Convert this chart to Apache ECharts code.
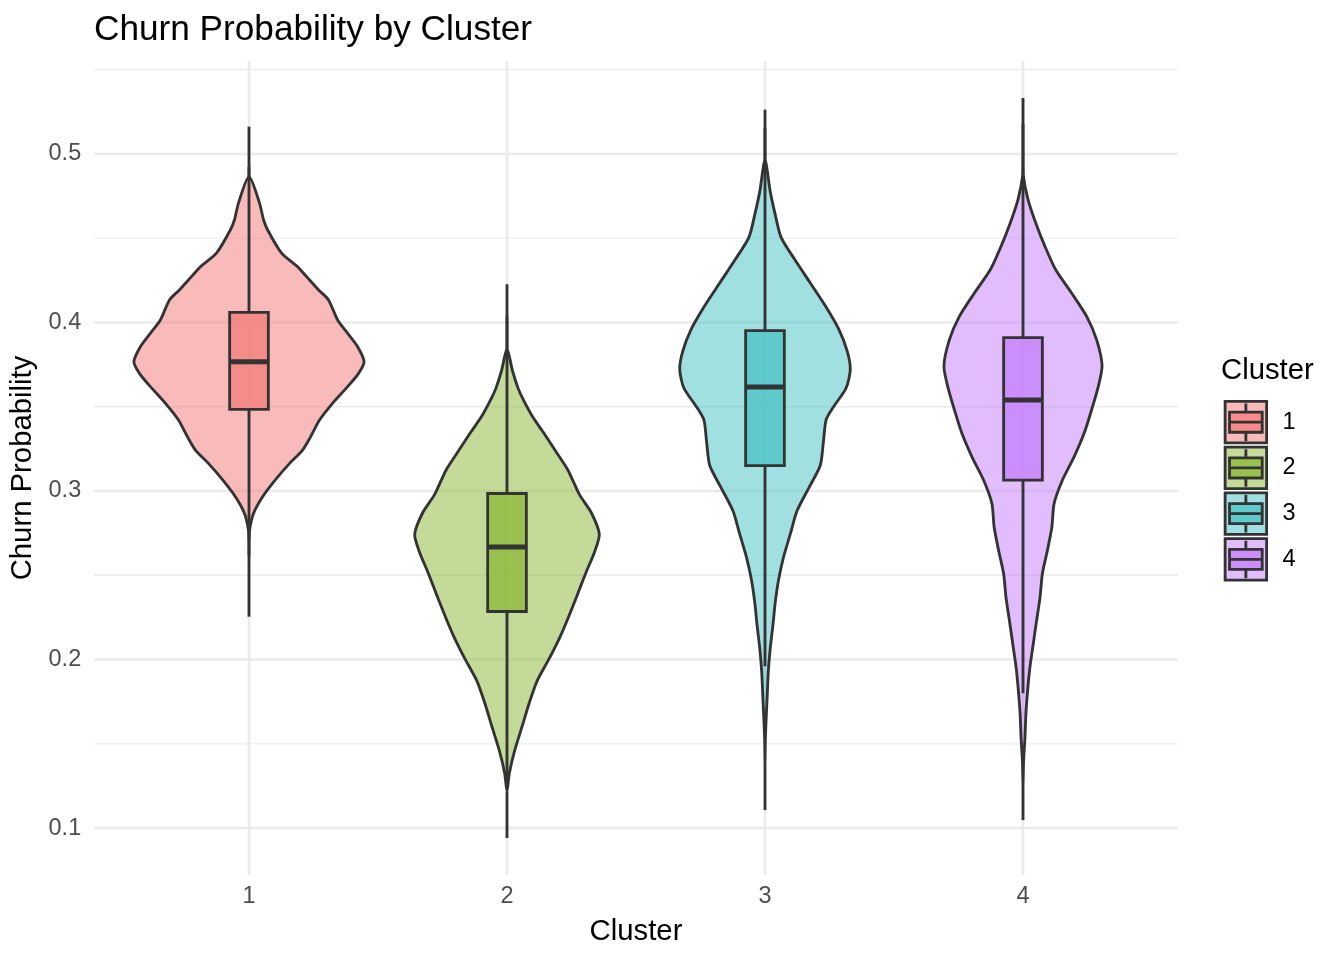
<!DOCTYPE html>
<html><head><meta charset="utf-8">
<script src="https://cdn.jsdelivr.net/npm/echarts@6/dist/echarts.min.js"></script>
<style>html,body{margin:0;padding:0;background:#fff}#chart{width:1344px;height:960px}</style>
</head><body><div id="chart"></div>
<script>
// ---------------- data ----------------
const categories = ['1', '2', '3', '4'];
const yMajorTicks = [0.1, 0.2, 0.3, 0.4, 0.5];
const yMinorTicks = [0.15, 0.25, 0.35, 0.45, 0.55];

// violin outlines: probability levels and relative density width (1 = widest)
const violinY1 = [0.5162,0.4865,0.4707,0.4608,0.4549,0.4411,0.4331,0.4272,0.4193,0.4134,0.4015,0.3936,0.3856,0.3767,0.3698,0.3619,0.3520,0.3421,0.3322,0.3243,0.3164,0.3065,0.2966,0.2868,0.2769,0.2690,0.2254];
const violinW1 = [0,0.001,0.092,0.127,0.162,0.283,0.422,0.500,0.605,0.691,0.770,0.857,0.944,1.000,0.952,0.857,0.726,0.613,0.535,0.466,0.353,0.227,0.118,0.040,0.005,0,0];

const violinY2 = [0.4227,0.3845,0.3718,0.3612,0.3549,0.3443,0.3337,0.3231,0.3125,0.3061,0.2977,0.2871,0.2744,0.2638,0.2511,0.2383,0.2235,0.2129,0.2002,0.1875,0.1748,0.1600,0.1451,0.1324,0.1218,0.1112,0.0941];
const violinW2 = [0,0,0.046,0.095,0.136,0.220,0.327,0.428,0.529,0.573,0.631,0.733,0.802,0.761,0.683,0.611,0.524,0.457,0.364,0.263,0.196,0.130,0.063,0.020,0,0,0];

const violinY3 = [0.5263,0.4965,0.4775,0.4640,0.4505,0.4369,0.4234,0.4099,0.3963,0.3828,0.3720,0.3611,0.3500,0.3422,0.3287,0.3151,0.3016,0.2880,0.2745,0.2610,0.2474,0.2339,0.2204,0.2069,0.1933,0.1798,0.1663,0.1527,0.1392,0.1107];
const violinW3 = [0,0,0.046,0.089,0.140,0.263,0.394,0.524,0.639,0.715,0.741,0.705,0.596,0.531,0.507,0.480,0.379,0.277,0.220,0.162,0.118,0.089,0.069,0.046,0.029,0.020,0.011,0.003,0,0];

const violinY4 = [0.5332,0.4950,0.4869,0.4731,0.4592,0.4453,0.4314,0.4175,0.4036,0.3897,0.3744,0.3619,0.3481,0.3342,0.3203,0.3064,0.2925,0.2786,0.2647,0.2508,0.2369,0.2231,0.2092,0.1953,0.1814,0.1675,0.1536,0.1397,0.1258,0.1047];
const violinW4 = [0,0,0.003,0.043,0.110,0.190,0.283,0.422,0.553,0.640,0.687,0.654,0.596,0.531,0.444,0.342,0.270,0.251,0.212,0.168,0.148,0.118,0.089,0.060,0.040,0.025,0.017,0.005,0,0];

// box plot statistics per cluster
const boxQ1 = [0.3484, 0.2285, 0.3151, 0.3065];
const boxMedian = [0.3767, 0.2667, 0.3617, 0.3540];
const boxQ3 = [0.4060, 0.2985, 0.3952, 0.3910];
const whiskerLow = [0.2620, 0.1235, 0.1960, 0.1800];
const whiskerHigh = [0.4924, 0.4035, 0.5154, 0.5178];

// ---------------- helpers ----------------
const violinYs = [violinY1, violinY2, violinY3, violinY4];
const violinWs = [violinW1, violinW2, violinW3, violinW4];
const hues = ['#F37875', '#89B632', '#42C1C3', '#C47BFC'];
const FONT = '"Liberation Sans", Arial, Helvetica, sans-serif';
const OUTLINE = '#333333';
const LW = 2.84;
const VIOLIN_ALPHA = 0.5, BOX_ALPHA = 0.7;

function rgba(hex, a) {
  const r = parseInt(hex.slice(1, 3), 16), g = parseInt(hex.slice(3, 5), 16), b = parseInt(hex.slice(5, 7), 16);
  return 'rgba(' + r + ',' + g + ',' + b + ',' + a + ')';
}

const allY = [].concat(...violinYs, whiskerLow, whiskerHigh);
const dMin = Math.min(...allY), dMax = Math.max(...allY);
const yMin = dMin - 0.05 * (dMax - dMin);
const yMax = dMax + 0.05 * (dMax - dMin);
const xMin = 1 - 0.6, xMax = categories.length + 0.6;

// grid line items: [orientation (0 horizontal, 1 vertical), value, major flag]
const gridData = []
  .concat(yMinorTicks.map(v => [0, v, 0]))
  .concat(yMajorTicks.map(v => [0, v, 1]))
  .concat(categories.map((c, i) => [1, i + 1, 1]));

function renderGrid(params, api) {
  const cs = params.coordSys;
  const orient = api.value(0), v = api.value(1), major = api.value(2);
  const style = { stroke: '#EBEBEB', lineWidth: major ? 2.6 : 1.3 };
  if (orient === 0) {
    const py = api.coord([xMin, v])[1];
    return { type: 'line', shape: { x1: cs.x, y1: py, x2: cs.x + cs.width, y2: py }, style: style };
  }
  const px = api.coord([v, yMin])[0];
  return { type: 'line', shape: { x1: px, y1: cs.y, x2: px, y2: cs.y + cs.height }, style: style };
}

const EPS = 0.0025;
function renderViolin(params, api) {
  const xPos = api.value(0);
  const k = api.value(1);
  const band = api.size([1, 0])[0];
  const cx = api.coord([xPos, yMin])[0];
  const ys = violinYs[k], ws = violinWs[k];
  let a = 0; while (a < ws.length && ws[a] <= EPS) a++;
  let b = ws.length - 1; while (b >= 0 && ws[b] <= EPS) b--;
  const s = Math.max(a - 1, 0), e = Math.min(b + 1, ws.length - 1);
  const right = [], left = [];
  for (let j = s; j <= e; j++) {
    const py = api.coord([xPos, ys[j]])[1];
    const hw = (j === s || j === e) ? 0 : ws[j] * 0.446 * band;
    right.push([cx + hw, py]);
    left.push([cx - hw, py]);
  }
  const pts = right.concat(left.slice(1, -1).reverse());
  const yTop = api.coord([xPos, ys[0]])[1], yTopTip = api.coord([xPos, ys[s]])[1];
  const yBot = api.coord([xPos, ys[ys.length - 1]])[1], yBotTip = api.coord([xPos, ys[e]])[1];
  const yq1 = api.coord([xPos, boxQ1[k]])[1];
  const yq3 = api.coord([xPos, boxQ3[k]])[1];
  const ymed = api.coord([xPos, boxMedian[k]])[1];
  const ylo = api.coord([xPos, whiskerLow[k]])[1];
  const yhi = api.coord([xPos, whiskerHigh[k]])[1];
  const bw = 0.075 * band;
  const lineStyle = { stroke: OUTLINE, lineWidth: LW, lineCap: 'butt' };
  return {
    type: 'group',
    children: [
      { type: 'polygon', shape: { points: pts, smooth: 0.25 },
        style: { fill: rgba(hues[k], VIOLIN_ALPHA), stroke: OUTLINE, lineWidth: LW, lineJoin: 'round' } },
      { type: 'line', shape: { x1: cx, y1: yTop, x2: cx, y2: yTopTip }, style: lineStyle },
      { type: 'line', shape: { x1: cx, y1: yBotTip, x2: cx, y2: yBot }, style: lineStyle },
      { type: 'line', shape: { x1: cx, y1: yq3, x2: cx, y2: yhi }, style: lineStyle },
      { type: 'line', shape: { x1: cx, y1: yq1, x2: cx, y2: ylo }, style: lineStyle },
      { type: 'rect', shape: { x: cx - bw, y: yq3, width: 2 * bw, height: yq1 - yq3 },
        style: { fill: rgba(hues[k], BOX_ALPHA), stroke: OUTLINE, lineWidth: LW } },
      { type: 'line', shape: { x1: cx - bw, y1: ymed, x2: cx + bw, y2: ymed },
        style: { stroke: OUTLINE, lineWidth: 5, lineCap: 'butt' } }
    ]
  };
}

const series = [{
  type: 'custom', name: '__grid', silent: true, z: 0,
  renderItem: renderGrid, data: gridData
}].concat(categories.map((c, i) => ({
  type: 'custom', name: c, z: 2, silent: true,
  itemStyle: { color: hues[i] },
  renderItem: renderViolin,
  data: [[i + 1, i]]
})));

const glyph = 'path://M0,0 M41.5,41.5 M4.4,10.7 L37.1,10.7 L37.1,30.8 L4.4,30.8 Z M20.75,2 L20.75,10.7 M20.75,30.8 L20.75,39.5 M4.4,20.75 L37.1,20.75';

const legendBase = {
  orient: 'vertical', left: 1223.7, top: 400, padding: 0,
  itemWidth: 41.5, itemHeight: 41.5, itemGap: 1.4, selectedMode: false
};

const option = {
  backgroundColor: '#ffffff',
  animation: false,
  title: [
    { text: 'Churn Probability by Cluster', left: 94, top: 13, padding: 0,
      textStyle: { fontFamily: FONT, fontSize: 35.2, fontWeight: 'normal', color: '#000000' } },
    { text: 'Cluster', left: 1221, top: 356, padding: 0,
      textStyle: { fontFamily: FONT, fontSize: 29.3, fontWeight: 'normal', color: '#000000' } }
  ],
  legend: [
    Object.assign({}, legendBase, {
      z: 4, icon: 'rect',
      textStyle: { fontFamily: FONT, fontSize: 23.5, color: '#000000', padding: [0, 0, 0, 11] },
      data: categories.map((c, i) => ({ name: c, icon: 'rect',
        itemStyle: { color: rgba(hues[i], VIOLIN_ALPHA), borderColor: OUTLINE, borderWidth: LW } }))
    }),
    Object.assign({}, legendBase, {
      z: 5,
      textStyle: { fontFamily: FONT, fontSize: 23.5, color: 'rgba(0,0,0,0)', padding: [0, 0, 0, 11] },
      data: categories.map((c, i) => ({ name: c, icon: glyph,
        itemStyle: { color: rgba(hues[i], BOX_ALPHA), borderColor: OUTLINE, borderWidth: LW } }))
    })
  ],
  grid: { left: 94.2, right: 166.2, top: 61, bottom: 85, containLabel: false, outerBoundsMode: 'none' },
  xAxis: {
    type: 'value', min: xMin, max: xMax,
    axisLine: { show: false }, axisTick: { show: false }, splitLine: { show: false },
    axisLabel: { customValues: categories.map((c, i) => i + 1),
      formatter: v => categories[Math.round(v) - 1],
      fontFamily: FONT, fontSize: 23.5, color: '#4D4D4D', margin: 10 },
    name: 'Cluster', nameLocation: 'middle', nameGap: 42,
    nameTextStyle: { fontFamily: FONT, fontSize: 29.3, color: '#000000' }
  },
  yAxis: {
    type: 'value', min: yMin, max: yMax,
    axisLine: { show: false }, axisTick: { show: false }, splitLine: { show: false },
    axisLabel: { customValues: yMajorTicks, formatter: v => v.toFixed(1),
      fontFamily: FONT, fontSize: 23.5, color: '#4D4D4D', margin: 13 },
    name: 'Churn Probability', nameLocation: 'middle', nameRotate: 90, nameGap: 50,
    nameTextStyle: { fontFamily: FONT, fontSize: 29.3, color: '#000000' }
  },
  series: series
};

const chart = echarts.init(document.getElementById('chart'), null, { renderer: 'canvas' });
chart.setOption(option);
</script>
</body></html>
